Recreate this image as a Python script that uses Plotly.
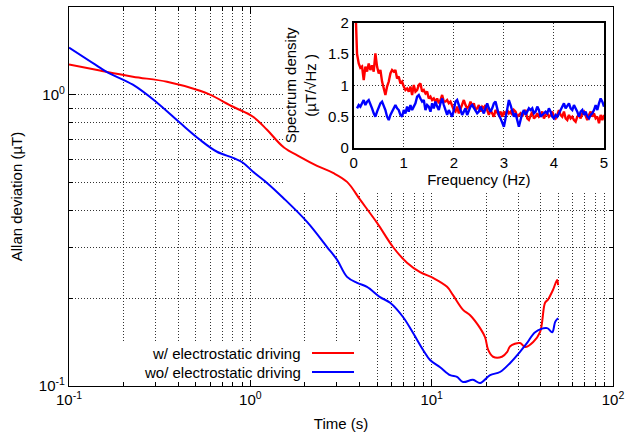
import math
import plotly.graph_objects as go

# ---------------- Main plot data (Allan deviation) ----------------
t_red = [0.1, 0.148, 0.225, 0.347, 0.528, 0.599, 0.803, 1.035, 1.236, 1.515, 1.879, 2.333,
         2.858, 3.415, 4.03, 5.0, 6.12, 7.31, 8.63, 10.18, 12.16, 13.12, 14.9, 16.3, 18.5,
         19.7, 20.5, 21.8, 24.4, 26.1, 27.1, 30.7, 32.8, 36.3, 39.6, 42.2, 43.8, 46.7, 49.2, 49.8]
adev_red = [1.27, 1.21, 1.153, 1.108, 1.032, 1.0, 0.909, 0.84, 0.758, 0.663, 0.612, 0.57,
            0.539, 0.502, 0.436, 0.363, 0.30, 0.265, 0.246, 0.235, 0.219, 0.205, 0.1825, 0.175, 0.158,
            0.147, 0.133, 0.126, 0.126, 0.131, 0.137, 0.1405, 0.136, 0.1416, 0.153, 0.193, 0.198, 0.214, 0.231, 0.222]

t_blue = [0.1, 0.148, 0.164, 0.225, 0.306, 0.409, 0.528, 0.655, 0.803, 0.911, 1.035, 1.236,
          1.515, 2.055, 2.65, 3.01, 3.415, 3.88, 4.40, 5.19, 5.90, 6.95, 7.90, 8.97, 9.80,
          11.13, 12.64, 13.8, 14.9, 16.9, 18.5, 21.0, 23.8, 27.1, 30.7, 33.6, 37.2, 43.3, 46.2, 48.0, 49.8]
adev_blue = [1.45, 1.238, 1.19, 1.082, 0.939, 0.801, 0.70, 0.637, 0.607, 0.584, 0.544, 0.498,
             0.443, 0.366, 0.30, 0.271, 0.237, 0.226, 0.219, 0.202, 0.193, 0.1725, 0.152, 0.133, 0.1228,
             0.116, 0.109, 0.1074, 0.1032, 0.105, 0.1024, 0.109, 0.1117, 0.12, 0.131, 0.1405, 0.153, 0.158, 0.153, 0.166, 0.171]

# ---------------- Inset data (spectrum density) ----------------
freq = [round(k / 30, 4) for k in range(1, 151)]
psd_red = [2.3, 1.5, 1.35, 1.28, 1.3, 1.085, 1.30, 1.22, 1.35, 1.245,
           1.32, 1.22, 1.51, 1.30, 1.19, 1.245, 1.06, 0.925, 0.846, 0.98,
           1.06, 1.19, 1.245, 1.22, 1.245, 1.11, 1.14, 1.03, 1.06, 0.98,
           0.925, 0.95, 0.90, 0.98, 0.846, 1.005, 0.90, 0.925, 1.005, 1.03,
           0.90, 0.925, 0.87, 0.90, 0.79, 0.82, 0.766, 0.79, 0.74, 0.79,
           0.713, 0.766, 0.846, 0.74, 0.74, 0.766, 0.713, 0.74, 0.66, 0.606,
           0.58, 0.66, 0.553, 0.633, 0.713, 0.766, 0.686, 0.633, 0.66, 0.74,
           0.66, 0.713, 0.606, 0.633, 0.686, 0.58, 0.66, 0.633, 0.686, 0.606,
           0.527, 0.606, 0.553, 0.50, 0.606, 0.553, 0.527, 0.58, 0.50, 0.58,
           0.527, 0.606, 0.553, 0.58, 0.527, 0.606, 0.58, 0.50, 0.527, 0.553,
           0.50, 0.58, 0.606, 0.473, 0.447, 0.527, 0.58, 0.473, 0.50, 0.553,
           0.50, 0.527, 0.58, 0.473, 0.527, 0.553, 0.50, 0.527, 0.58, 0.50,
           0.473, 0.527, 0.606, 0.527, 0.50, 0.58, 0.473, 0.447, 0.527, 0.473,
           0.50, 0.447, 0.42, 0.50, 0.527, 0.473, 0.553, 0.58, 0.50, 0.447,
           0.527, 0.58, 0.50, 0.553, 0.473, 0.50, 0.394, 0.527, 0.447, 0.527]
psd_blue = [0.633, 0.633, 0.686, 0.66, 0.713, 0.766, 0.686, 0.74, 0.766, 0.713,
            0.633, 0.553, 0.50, 0.58, 0.66, 0.713, 0.74, 0.686, 0.606, 0.50,
            0.447, 0.527, 0.58, 0.633, 0.686, 0.633, 0.606, 0.527, 0.50, 0.606,
            0.553, 0.66, 0.58, 0.686, 0.606, 0.66, 0.713, 0.82, 0.846, 0.79,
            0.74, 0.766, 0.606, 0.686, 0.66, 0.58, 0.713, 0.633, 0.74, 0.66,
            0.606, 0.713, 0.79, 0.686, 0.606, 0.527, 0.606, 0.553, 0.50, 0.606,
            0.74, 0.766, 0.686, 0.606, 0.527, 0.58, 0.633, 0.527, 0.606, 0.66,
            0.686, 0.633, 0.58, 0.553, 0.58, 0.66, 0.606, 0.553, 0.633, 0.713,
            0.633, 0.58, 0.633, 0.713, 0.74, 0.606, 0.527, 0.473, 0.394, 0.34,
            0.473, 0.606, 0.766, 0.686, 0.58, 0.50, 0.553, 0.447, 0.34, 0.447,
            0.553, 0.606, 0.527, 0.58, 0.633, 0.606, 0.633, 0.553, 0.58, 0.66,
            0.606, 0.50, 0.527, 0.553, 0.58, 0.553, 0.633, 0.58, 0.50, 0.473,
            0.527, 0.50, 0.553, 0.606, 0.66, 0.713, 0.633, 0.686, 0.713, 0.633,
            0.606, 0.686, 0.633, 0.58, 0.50, 0.58, 0.606, 0.527, 0.58, 0.50,
            0.473, 0.527, 0.553, 0.606, 0.686, 0.606, 0.713, 0.79, 0.74, 0.66]

x_ticks = [0.1, 1, 10, 100]
x_ticktext = ["10<sup>-1</sup>", "10<sup>0</sup>", "10<sup>1</sup>", "10<sup>2</sup>"]
y_ticks = [0.1, 1]
y_ticktext = ["10<sup>-1</sup>", "10<sup>0</sup>"]
x_minor = [m * d for d in (0.1, 1, 10) for m in range(2, 10)]
y_minor = [m * 0.1 for m in range(2, 10)] + [2]
inset_yticks = [0, 0.5, 1, 1.5, 2]
inset_yticktext = ["0", "0.5", "1", "1.5", "2"]

legend_labels = ["w/ electrostatic driving", "wo/ electrostatic driving"]
RED = "#ff0000"
BLUE = "#0000ff"
FONT = "Liberation Sans, Arial, Helvetica, sans-serif"
GRID = "rgba(0,0,0,0.8)"
DOT = "1px,2px"

# layout geometry (pixels) -> paper fractions
W, H = 625, 436
ML, MR, MT, MB = 69, 12, 7, 50
PW, PH = W - ML - MR, H - MT - MB
XLOG = [-1, 2]
YLOG = [-1, math.log10(2)]


def px_x(p):
    return (p - ML) / PW


def px_y(p):
    return 1 - (p - MT) / PH


# mask over inset region (hides main grid) - main curves redrawn on it
mx0, my0 = px_x(283), px_y(193)
mask_xrange = [XLOG[0] + (XLOG[1] - XLOG[0]) * mx0, XLOG[1]]
mask_yrange = [YLOG[0] + (YLOG[1] - YLOG[0]) * my0, YLOG[1]]

common_font = dict(family=FONT, size=15, color="black")

fig = go.Figure()
for xa, ya in (("x", "y"), ("x2", "y2")):
    fig.add_trace(go.Scatter(x=t_red, y=adev_red, mode="lines", line=dict(color=RED, width=2),
                             line_shape="spline", showlegend=False, xaxis=xa, yaxis=ya, hoverinfo="skip"))
    fig.add_trace(go.Scatter(x=t_blue, y=adev_blue, mode="lines", line=dict(color=BLUE, width=2),
                             line_shape="spline", showlegend=False, xaxis=xa, yaxis=ya, hoverinfo="skip"))
# inset
fig.add_trace(go.Scatter(x=freq, y=psd_red, mode="lines", line=dict(color=RED, width=2.4),
                         showlegend=False, xaxis="x3", yaxis="y3"))
fig.add_trace(go.Scatter(x=freq[1:], y=psd_blue[1:], mode="lines", line=dict(color=BLUE, width=2.4),
                         showlegend=False, xaxis="x3", yaxis="y3"))
# legend mask subplot (empty)
fig.add_trace(go.Scatter(x=[0], y=[0], mode="markers", marker=dict(opacity=0), showlegend=False,
                         xaxis="x4", yaxis="y4", hoverinfo="skip"))

hidden = dict(visible=False, showgrid=False, zeroline=False, fixedrange=True, automargin=False)

fig.update_layout(
    width=W, height=H, autosize=False,
    margin=dict(l=ML, r=MR, t=MT, b=MB, pad=0, autoexpand=False),
    paper_bgcolor="white", plot_bgcolor="white",
    font=common_font,
    showlegend=False,
    xaxis=dict(
        type="log", range=XLOG, domain=[0, 1], anchor="y", automargin=False,
        tickmode="array", tickvals=x_ticks, ticktext=x_ticktext,
        ticks="inside", ticklen=7, tickcolor="black", tickwidth=1,
        showline=True, linecolor="black", linewidth=1.2, mirror="allticks",
        showgrid=True, gridcolor=GRID, griddash=DOT, gridwidth=1,
        minor=dict(tickmode="array", tickvals=x_minor, ticks="inside", ticklen=4,
                   tickcolor="black", showgrid=True, gridcolor=GRID, griddash=DOT, gridwidth=1),
        zeroline=False,
        title=dict(text="Time (s)", standoff=11, font=common_font),
        tickfont=common_font,
    ),
    yaxis=dict(
        type="log", range=YLOG, domain=[0, 1], anchor="x", automargin=False,
        tickmode="array", tickvals=y_ticks, ticktext=y_ticktext,
        ticks="inside", ticklen=7, tickcolor="black", tickwidth=1,
        showline=True, linecolor="black", linewidth=1.2, mirror="allticks",
        showgrid=True, gridcolor=GRID, griddash=DOT, gridwidth=1,
        minor=dict(tickmode="array", tickvals=y_minor, ticks="inside", ticklen=4,
                   tickcolor="black", showgrid=True, gridcolor=GRID, griddash=DOT, gridwidth=1),
        zeroline=False,
        title=dict(text="Allan deviation (µT)", standoff=12, font=common_font),
        tickfont=common_font,
    ),
    xaxis2=dict(type="log", range=mask_xrange, domain=[mx0, 1], anchor="y2", **hidden),
    yaxis2=dict(type="log", range=mask_yrange, domain=[my0, 1], anchor="x2", **hidden),
    xaxis3=dict(
        range=[0, 5], domain=[px_x(353.7), px_x(604)], anchor="y3", automargin=False,
        tickmode="linear", tick0=0, dtick=1, ticks="",
        showline=True, linecolor="black", linewidth=1.5, mirror=True,
        showgrid=True, gridcolor=GRID, griddash=DOT, gridwidth=1,
        zeroline=False,
        title=dict(text="Frequency (Hz)", standoff=1, font=common_font),
        tickfont=common_font,
    ),
    yaxis3=dict(
        range=[0, 2], domain=[px_y(148), px_y(22.7)], anchor="x3", automargin=False,
        tickmode="array", tickvals=inset_yticks, ticktext=inset_yticktext,
        ticks="",
        showline=True, linecolor="black", linewidth=1.5, mirror=True,
        showgrid=True, gridcolor=GRID, griddash=DOT, gridwidth=1,
        zeroline=False,
        title=dict(text="Spectrum density<br>(µT/√Hz )", standoff=8, font=common_font),
        tickfont=common_font,
    ),
    xaxis4=dict(range=[0, 1], domain=[px_x(110), px_x(370)], anchor="y4", **hidden),
    yaxis4=dict(range=[0, 1], domain=[px_y(380), px_y(343)], anchor="x4", **hidden),
)

# legend (gnuplot style: text then line sample)
for lab, col, ypix in zip(legend_labels, [RED, BLUE], [353, 372]):
    ypos = px_y(ypix)
    fig.add_annotation(x=px_x(303), y=ypos, xref="paper", yref="paper",
                       text=lab, showarrow=False, xanchor="right", yanchor="middle",
                       font=common_font)
    fig.add_shape(type="line", xref="paper", yref="paper",
                  x0=px_x(312), x1=px_x(354), y0=ypos, y1=ypos,
                  line=dict(color=col, width=2), layer="above")

fig.write_html("out.html")
